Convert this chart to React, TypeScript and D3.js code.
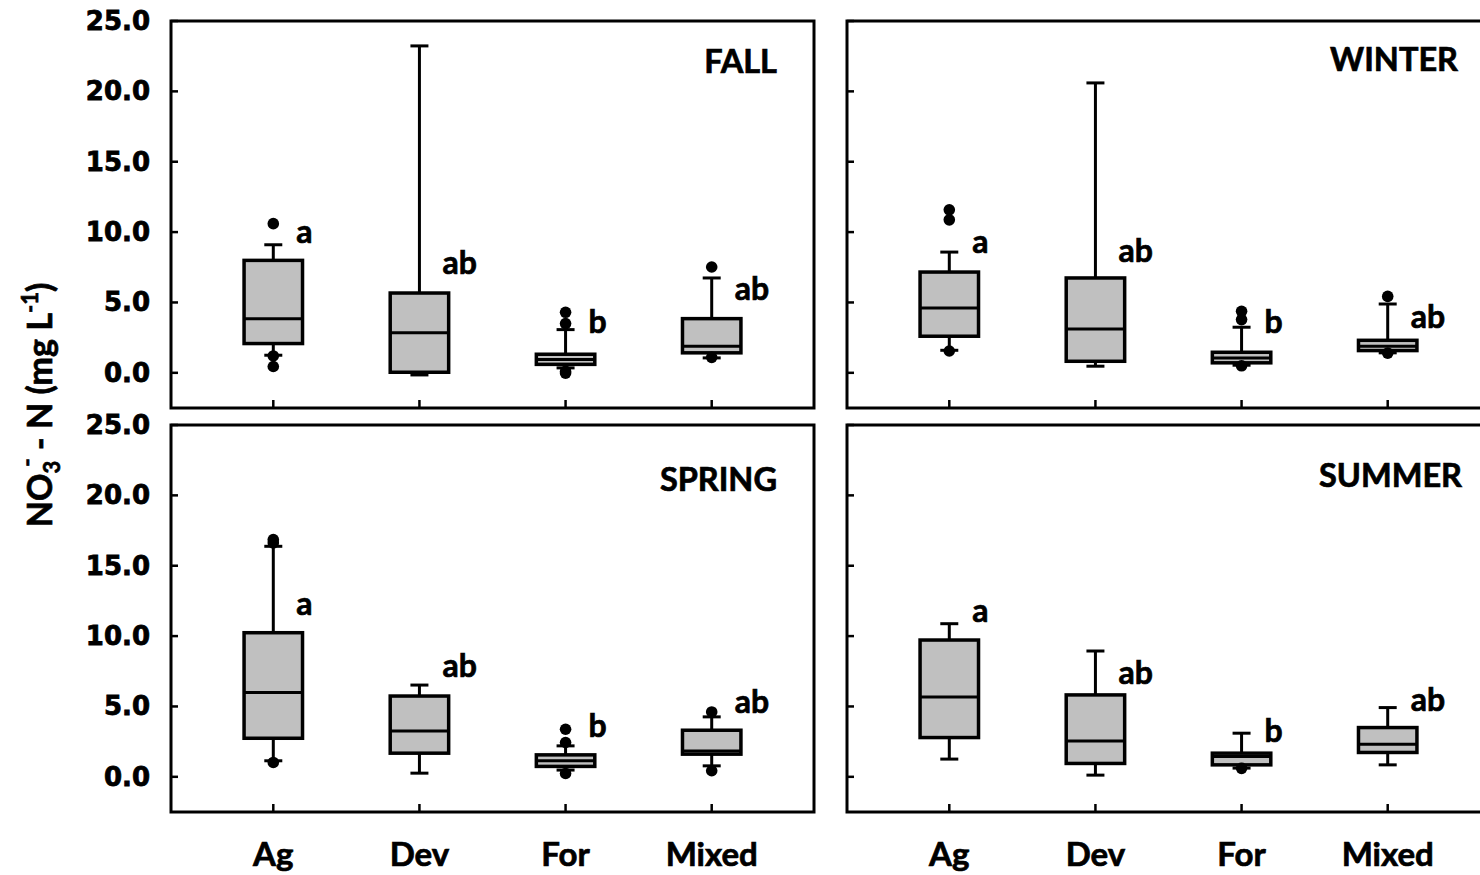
import React from "react";
import * as d3 from "d3";

// ---------- DATA ----------
const categories = ["Ag", "Dev", "For", "Mixed"];
const seasons = ["FALL", "WINTER", "SPRING", "SUMMER"];
const yTicks = [0, 5, 10, 15, 20, 25];

// each box: [lower whisker, Q1, median, Q3, upper whisker]
const fallBoxes = [
  [1.25, 2.08, 3.85, 7.99, 9.1],
  [-0.15, 0.04, 2.84, 5.67, 23.23],
  [0.35, 0.6, 0.95, 1.32, 3.07],
  [1.06, 1.42, 1.89, 3.85, 6.74],
];
const fallOutliers = [[10.6, 1.2, 0.45], [], [4.3, 3.5, 0.1, -0.02], [7.52, 1.1]];
const fallLetters = ["a", "ab", "b", "ab"];
const fallLetterY = [9.2, 7.0, 2.85, 5.2];

const winterBoxes = [
  [1.6, 2.6, 4.61, 7.16, 8.58],
  [0.47, 0.82, 3.12, 6.74, 20.6],
  [0.54, 0.71, 1.06, 1.46, 3.24],
  [1.42, 1.58, 1.89, 2.31, 4.89],
];
const winterOutliers = [[11.58, 10.87, 1.55], [], [4.37, 3.78, 0.5], [5.43, 1.4]];
const winterLetters = ["a", "ab", "b", "ab"];
const winterLetterY = [8.5, 7.9, 2.85, 3.2];

const springBoxes = [
  [1.14, 2.74, 5.99, 10.24, 16.38],
  [0.26, 1.68, 3.26, 5.74, 6.52],
  [0.48, 0.74, 1.14, 1.56, 2.2],
  [0.78, 1.61, 1.84, 3.31, 4.26],
];
const springOutliers = [[16.86, 16.62, 1.02], [], [3.38, 2.44, 0.24], [4.61, 0.43]];
const springLetters = ["a", "ab", "b", "ab"];
const springLetterY = [11.5, 7.06, 2.82, 4.52];

const summerBoxes = [
  [1.26, 2.79, 5.67, 9.72, 10.88],
  [0.12, 0.95, 2.55, 5.82, 8.94],
  [0.62, 0.85, 1.45, 1.68, 3.1],
  [0.85, 1.73, 2.32, 3.5, 4.92],
];
const summerOutliers = [[], [], [0.6], []];
const summerLetters = ["a", "ab", "b", "ab"];
const summerLetterY = [11.0, 6.57, 2.45, 4.71];

const seasonBoxes = [fallBoxes, winterBoxes, springBoxes, summerBoxes];
const seasonOutliers = [fallOutliers, winterOutliers, springOutliers, summerOutliers];
const seasonLetters = [fallLetters, winterLetters, springLetters, summerLetters];
const seasonLetterY = [fallLetterY, winterLetterY, springLetterY, summerLetterY];

// ---------- LAYOUT ----------
const W = 1480;
const H = 875;
const panelW = 643;
const panelH = 387;
const panelPos = [
  { x: 171, y: 21 },
  { x: 847, y: 21 },
  { x: 171, y: 425 },
  { x: 847, y: 425 },
];
const titleRight = [606, 611, 606, 615];
const titleBase = [52, 50, 66, 62];

const LABEL_FONT = "Lato, 'Open Sans', sans-serif";
const TICK_FONT = "'DejaVu Sans', Verdana, sans-serif";
const TXT = { fontFamily: LABEL_FONT, fontWeight: "bold" as const, fill: "#000", stroke: "#000", strokeWidth: 0.7 };

function Panel({ idx }: { idx: number }) {
  const { x, y } = panelPos[idx];
  const xScale = d3.scalePoint<string>().domain(categories).range([0, panelW]).padding(0.7);
  const yScale = d3.scaleLinear().domain([-2.5, 25]).range([panelH, 0]);
  const step = xScale.step();
  const boxW = step * 0.4;
  const capW = 18;
  const boxes = seasonBoxes[idx];
  const outs = seasonOutliers[idx];
  const letters = seasonLetters[idx];
  const letterY = seasonLetterY[idx];
  const isLeft = idx % 2 === 0;
  const isBottom = idx >= 2;
  const lw = 3;

  return (
    <g transform={`translate(${x},${y})`}>
      {yTicks.map((t) => (
        <line key={"yt" + t} x1={0} x2={7} y1={yScale(t)} y2={yScale(t)} stroke="#000" strokeWidth={2.5} />
      ))}
      {isLeft &&
        yTicks.map((t) => (
          <text
            key={"yl" + t}
            x={-21}
            y={yScale(t)}
            textAnchor="end"
            dominantBaseline="central"
            fontFamily={TICK_FONT}
            fontWeight="bold"
            fontSize={26}
            fill="#000"
            stroke="#000"
            strokeWidth={0.8}
          >
            {t.toFixed(1)}
          </text>
        ))}
      {categories.map((c) => (
        <line key={"xt" + c} x1={xScale(c)} x2={xScale(c)} y1={panelH} y2={panelH - 8} stroke="#000" strokeWidth={2.5} />
      ))}
      {categories.map((c, i) => {
        const cx = xScale(c) as number;
        const [lo, q1, med, q3, hi] = boxes[i];
        return (
          <g key={"b" + c}>
            <line x1={cx} x2={cx} y1={yScale(hi)} y2={yScale(q3)} stroke="#000" strokeWidth={lw} />
            <line x1={cx} x2={cx} y1={yScale(q1)} y2={yScale(lo)} stroke="#000" strokeWidth={lw} />
            <line x1={cx - capW / 2} x2={cx + capW / 2} y1={yScale(hi)} y2={yScale(hi)} stroke="#000" strokeWidth={lw} />
            <line x1={cx - capW / 2} x2={cx + capW / 2} y1={yScale(lo)} y2={yScale(lo)} stroke="#000" strokeWidth={lw} />
            <rect
              x={cx - boxW / 2}
              y={yScale(q3)}
              width={boxW}
              height={yScale(q1) - yScale(q3)}
              fill="#c0c0c0"
              stroke="#000"
              strokeWidth={3.5}
            />
            <line x1={cx - boxW / 2} x2={cx + boxW / 2} y1={yScale(med)} y2={yScale(med)} stroke="#000" strokeWidth={lw} />
            {outs[i].map((o, k) => (
              <circle key={k} cx={cx} cy={yScale(o)} r={5.8} fill="#000" />
            ))}
            <text x={cx + 23} y={yScale(letterY[i])} fontSize={32} {...TXT}>
              {letters[i]}
            </text>
          </g>
        );
      })}
      <rect x={0} y={0} width={panelW} height={panelH} fill="none" stroke="#000" strokeWidth={3} />
      <text x={titleRight[idx]} y={titleBase[idx]} textAnchor="end" fontSize={32.5} {...TXT}>
        {seasons[idx]}
      </text>
      {isBottom &&
        categories.map((c) => (
          <text key={"xl" + c} x={xScale(c)} y={866 - y} textAnchor="middle" fontSize={33} {...TXT}>
            {c}
          </text>
        ))}
    </g>
  );
}

export default function App() {
  return (
    <svg
      width={W}
      height={H}
      viewBox={`0 0 ${W} ${H}`}
      style={{ position: "absolute", left: 0, top: 0, background: "#fff" }}
    >
      <rect x={0} y={0} width={W} height={H} fill="#fff" />
      {seasons.map((s, i) => (
        <Panel key={s} idx={i} />
      ))}
      <text transform="translate(52,405) rotate(-90)" textAnchor="middle" fontSize={34} {...TXT}>
        NO
        <tspan fontSize={22} dy={8}>3</tspan>
        <tspan fontSize={23} dx={-6} dy={-25}>-</tspan>
        <tspan dy={17}> - N (mg L</tspan>
        <tspan fontSize={22} dy={-14}>-1</tspan>
        <tspan dy={14}>)</tspan>
      </text>
    </svg>
  );
}
